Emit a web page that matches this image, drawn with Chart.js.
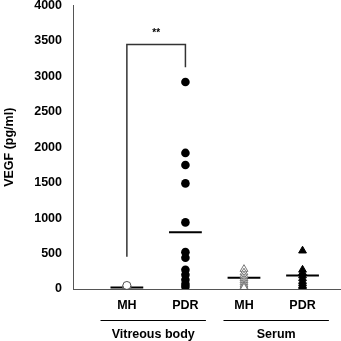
<!DOCTYPE html>
<html>
<head>
<meta charset="utf-8">
<script src="https://cdn.jsdelivr.net/npm/chart.js@4/dist/chart.umd.min.js"></script>
<style>
  html, body { margin: 0; padding: 0; background: #fff; }
  #wrap { width: 341px; height: 341px; }
</style>
</head>
<body>
<div id="wrap"><canvas id="vegfChart"></canvas></div>
<script>
// groups on the x axis (1..4)
const categories = ['MH', 'PDR', 'MH', 'PDR'];
const groups = ['Vitreous body', 'Serum'];
const yTicks = [0, 500, 1000, 1500, 2000, 2500, 3000, 3500, 4000];

// individual values (pg/ml)
const vitreousMH = [10, 20, 30, 40, 50];
const vitreousPDR = [2920, 1920, 1750, 1490, 940, 520, 440, 270, 200, 130, 70, 30];
const serumMH = [280, 230, 190, 150, 120, 90, 60, 40, 20];
const serumPDR = [540, 270, 230, 190, 150, 110, 80, 50, 30, 10];

// mean bars
const means = [20, 800, 160, 190];

// significance bracket between the two vitreous groups
const bracket = [455, 3450, 3130];

const font = 'Liberation Sans, Arial, sans-serif';
const fsize = 12.5;

function pts(x, arr) {
    return arr.map(v => ({ x: x, y: v }));
}

const meanSets = means.map((m, i) => ({
    type: 'line',
    data: [{ x: i + 1 - 0.28, y: m }, { x: i + 1 + 0.28, y: m }],
    borderColor: '#000',
    borderWidth: 2,
    pointRadius: 0,
    showLine: true,
    order: 0
}));

// group labels under the axis + stars
const groupLabels = {
    id: 'groupLabels',
    afterDraw(chart) {
        const c = chart.ctx;
        const xs = chart.scales.x;
        const ys = chart.scales.y;
        const area = chart.chartArea;
        c.save();
        // axis line runs on to the right edge
        c.strokeStyle = '#555';
        c.lineWidth = 1;
        c.beginPath();
        c.moveTo(area.right, area.bottom + 0.5);
        c.lineTo(chart.width, area.bottom + 0.5);
        c.stroke();

        c.strokeStyle = '#000';
        c.fillStyle = '#000';
        c.font = 'bold ' + fsize + 'px ' + font;
        c.textAlign = 'center';
        c.textBaseline = 'middle';
        [[0.55, 2.35, groups[0]], [2.65, 4.45, groups[1]]].forEach(g => {
            const a = xs.getPixelForValue(g[0]);
            const b = xs.getPixelForValue(g[1]);
            c.beginPath();
            c.moveTo(a, 320.5);
            c.lineTo(b, 320.5);
            c.stroke();
            c.fillText(g[2], (a + b) / 2, 335);
        });
        c.font = 'bold 10px ' + font;
        c.fillText('**', xs.getPixelForValue(1.5), ys.getPixelForValue(bracket[1]) - 11);
        c.restore();
    }
};

new Chart(document.getElementById('vegfChart').getContext('2d'), {
    type: 'scatter',
    data: {
        datasets: [
            {
                data: pts(1, vitreousMH),
                pointStyle: 'circle',
                pointRadius: 4,
                backgroundColor: '#fff',
                borderColor: '#555',
                borderWidth: 1
            },
            {
                data: pts(2, vitreousPDR),
                pointStyle: 'circle',
                pointRadius: 4.3,
                backgroundColor: '#000',
                borderColor: '#000',
                borderWidth: 0
            },
            {
                data: pts(3, serumMH),
                pointStyle: 'triangle',
                pointRadius: 4.5,
                backgroundColor: '#fff',
                borderColor: '#777',
                borderWidth: 1
            },
            {
                data: pts(4, serumPDR),
                pointStyle: 'triangle',
                pointRadius: 4.5,
                backgroundColor: '#000',
                borderColor: '#000',
                borderWidth: 1
            },
            {
                type: 'line',
                data: [{ x: 1, y: bracket[0] }, { x: 1, y: bracket[1] }, { x: 2, y: bracket[1] }, { x: 2, y: bracket[2] }],
                borderColor: '#333',
                borderWidth: 1.5,
                pointRadius: 0,
                showLine: true
            },
            ...meanSets
        ]
    },
    options: {
        responsive: true,
        maintainAspectRatio: false,
        animation: false,
        layout: { padding: { top: 5, left: 0, right: 0, bottom: 0 } },
        plugins: {
            legend: { display: false },
            tooltip: { enabled: false }
        },
        scales: {
            x: {
                type: 'linear',
                min: 0.08,
                max: 4.563,
                grid: { display: false, drawTicks: false },
                border: { display: true, color: '#555', width: 1 },
                afterBuildTicks: s => { s.ticks = [1, 2, 3, 4].map(v => ({ value: v })); },
                afterFit: s => { s.height = 52; s.paddingLeft = 0; s.paddingRight = 0; },
                ticks: {
                    padding: 9,
                    color: '#000',
                    font: { family: font, size: fsize, weight: 'bold' },
                    callback: v => categories[v - 1],
                    maxRotation: 0,
                    autoSkip: false
                }
            },
            y: {
                min: 0,
                max: 4000,
                grid: { display: false, drawTicks: false },
                border: { display: true, color: '#555', width: 1 },
                afterBuildTicks: s => { s.ticks = yTicks.map(v => ({ value: v })); },
                afterFit: s => { s.width = 73; s.paddingTop = 0; s.paddingBottom = 0; },
                ticks: {
                    padding: 11,
                    color: '#000',
                    font: { family: font, size: fsize, weight: 'bold' },
                    callback: v => String(v)
                },
                title: {
                    display: true,
                    text: 'VEGF (pg/ml)',
                    color: '#000',
                    padding: { top: 2, bottom: 2 },
                    font: { family: font, size: fsize, weight: 'bold' }
                }
            }
        }
    },
    plugins: [groupLabels]
});
</script>
</body>
</html>
